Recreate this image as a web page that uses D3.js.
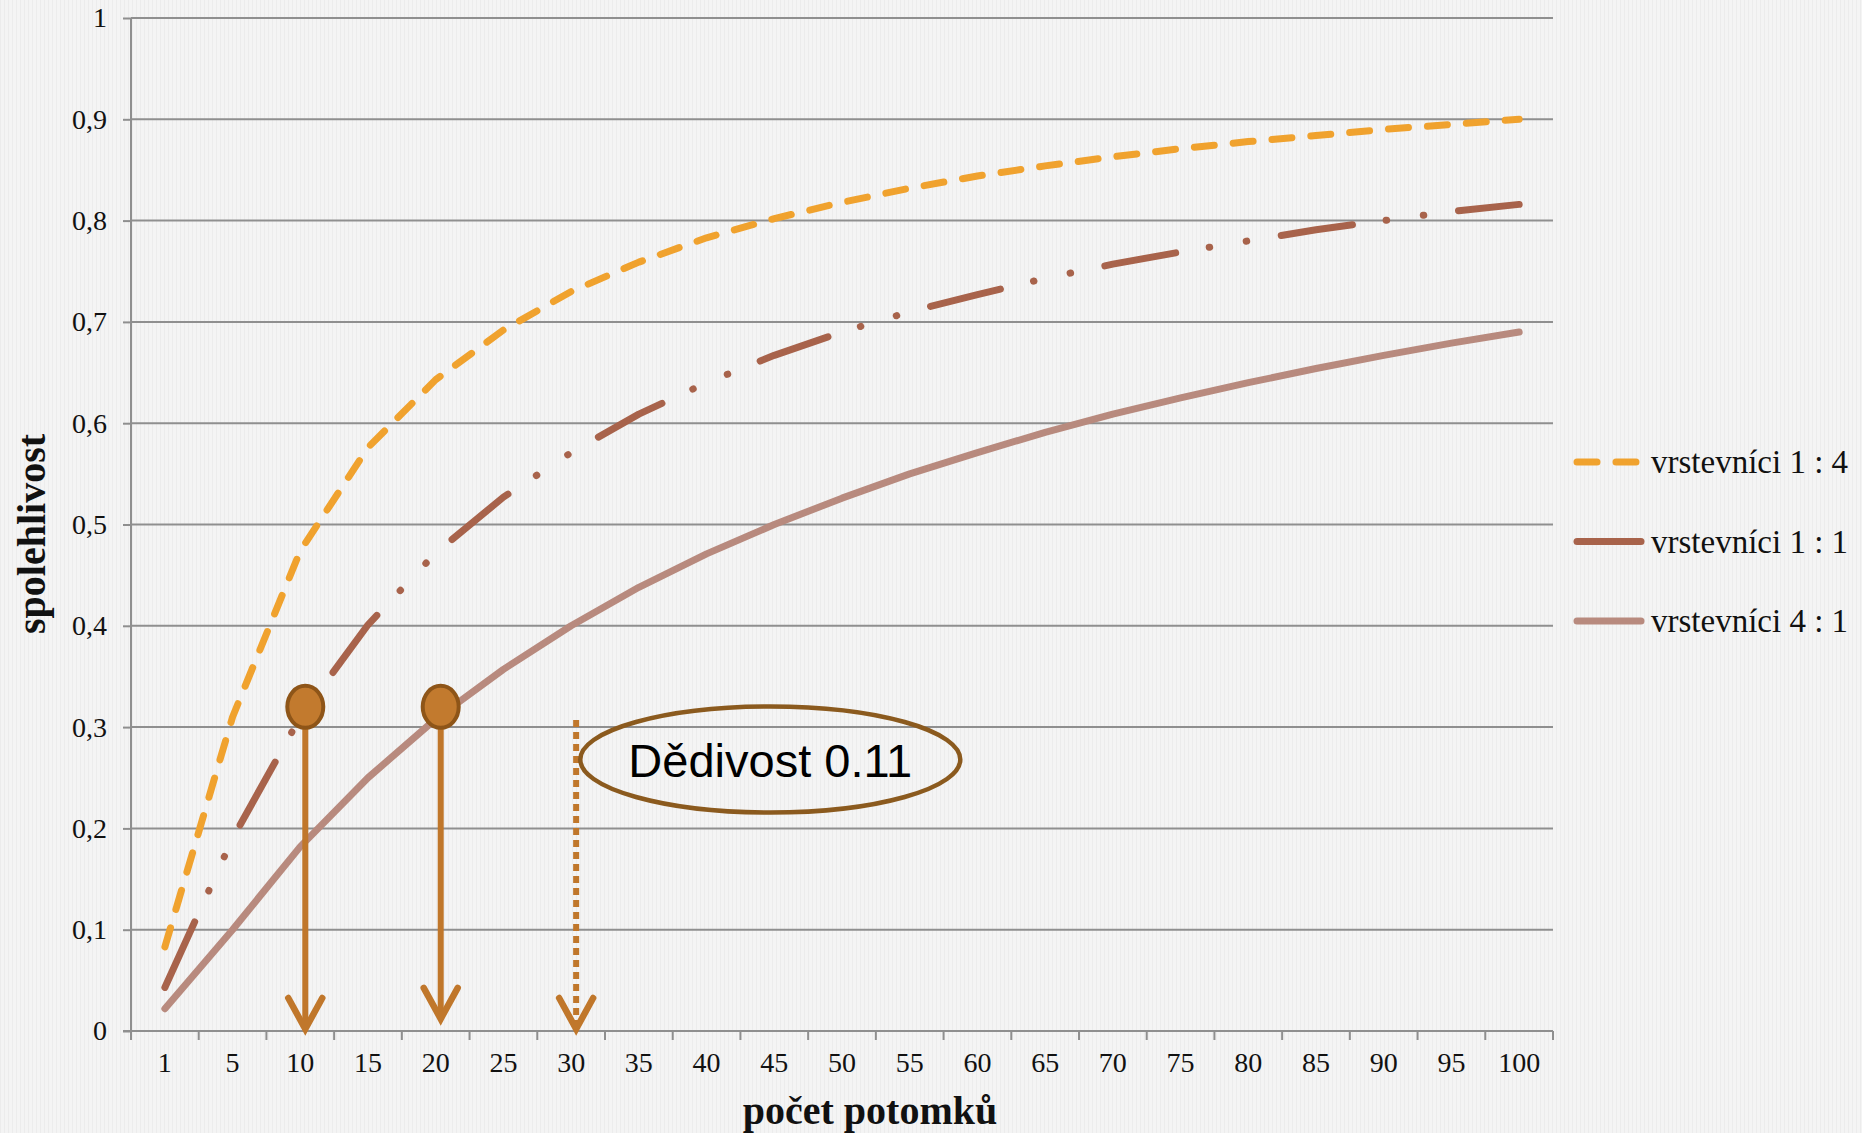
<!DOCTYPE html>
<html lang="cs">
<head>
    <meta charset="UTF-8">
    <title>Spolehlivost podle počtu potomků</title>
    <style>
        body { margin: 0; background: #f3f3f3; }
        svg { display: block; }
    </style>
</head>
<body>
    <svg class="chart-svg" width="1862" height="1133"></svg>
    <script src="https://d3js.org/d3.v7.min.js"></script>
    <script>
        // categories on the x axis (number of offspring)
        var categories = ["1", "5", "10", "15", "20", "25", "30", "35", "40", "45", "50",
                          "55", "60", "65", "70", "75", "80", "85", "90", "95", "100"];
        var yTicks = [0, 0.1, 0.2, 0.3, 0.4, 0.5, 0.6, 0.7, 0.8, 0.9, 1];

        // reliability values
        var vrst14 = [0.083, 0.31, 0.474, 0.576, 0.643, 0.692, 0.73, 0.759, 0.783, 0.802, 0.818,
                      0.832, 0.844, 0.854, 0.863, 0.871, 0.878, 0.884, 0.89, 0.895, 0.9];
        var vrst11 = [0.043, 0.19, 0.31, 0.401, 0.472, 0.527, 0.571, 0.609, 0.64, 0.667, 0.69,
                      0.71, 0.727, 0.743, 0.757, 0.769, 0.78, 0.791, 0.8, 0.809, 0.816];
        var vrst41 = [0.022, 0.1, 0.182, 0.25, 0.308, 0.357, 0.4, 0.438, 0.471, 0.5, 0.526,
                      0.55, 0.571, 0.591, 0.609, 0.625, 0.64, 0.654, 0.667, 0.679, 0.69];
        var seriesNames = ["vrstevníci 1 : 4", "vrstevníci 1 : 1", "vrstevníci 4 : 1"];

        // annotations: arrows down to the axis
        var arrowCats = ["10", "20"];
        var arrowFrom = [0.32, 0.32];
        var arrowTo = [0, 0.01];
        var dottedCat = "30";
        var dottedFrom = 0.307;
        var noteText = "Dědivost 0.11";

        var svg = d3.select(".chart-svg");
        var plotLeft = 131, plotRight = 1553, plotTop = 18, plotBottom = 1031;

        // faint vertical texture like the original background
        var defs = svg.append("defs");
        var pat = defs.append("pattern").attr("id", "tex")
            .attr("width", 4).attr("height", 4).attr("patternUnits", "userSpaceOnUse");
        pat.append("rect").attr("width", 4).attr("height", 4).attr("fill", "#f4f4f4");
        pat.append("rect").attr("width", 1).attr("height", 4).attr("fill", "#ececec");
        svg.append("rect").attr("width", 1862).attr("height", 1133).attr("fill", "url(#tex)");

        var xScale = d3.scaleBand().domain(categories).range([plotLeft, plotRight]).padding(0);
        var yScale = d3.scaleLinear().domain([0, 1]).range([plotBottom, plotTop]);
        var cx = function (c) { return xScale(c) + xScale.bandwidth() / 2; };

        // gridlines
        svg.append("g").selectAll("line")
            .data(yTicks.slice(1))
            .enter().append("line")
            .attr("x1", plotLeft).attr("x2", plotRight)
            .attr("y1", d => yScale(d)).attr("y2", d => yScale(d))
            .attr("stroke", "#8f8f8f").attr("stroke-width", 2);

        // y axis
        var yAxis = svg.append("g")
            .attr("transform", "translate(" + plotLeft + ",0)")
            .call(d3.axisLeft(yScale).tickValues(yTicks).tickSize(8).tickPadding(16)
                .tickFormat(d => String(d).replace(".", ",")));
        yAxis.select(".domain").remove();
        yAxis.selectAll("line").attr("stroke", "#8f8f8f").attr("stroke-width", 2);
        yAxis.selectAll("text").attr("font-family", "Liberation Serif, serif")
            .attr("font-size", 28).attr("fill", "#111");
        svg.append("line").attr("x1", plotLeft).attr("x2", plotLeft)
            .attr("y1", plotTop).attr("y2", plotBottom + 9)
            .attr("stroke", "#8f8f8f").attr("stroke-width", 2);

        // x axis: labels at band centers, ticks at band edges
        var xAxis = svg.append("g")
            .attr("transform", "translate(0," + plotBottom + ")")
            .call(d3.axisBottom(xScale).tickSize(0).tickPadding(21));
        xAxis.select(".domain").remove();
        xAxis.selectAll("text").attr("font-family", "Liberation Serif, serif")
            .attr("font-size", 28).attr("fill", "#111");
        svg.append("line").attr("x1", plotLeft - 8).attr("x2", plotRight)
            .attr("y1", plotBottom).attr("y2", plotBottom)
            .attr("stroke", "#8f8f8f").attr("stroke-width", 2);
        svg.append("g").selectAll("line")
            .data(categories.concat(["end"]))
            .enter().append("line")
            .attr("x1", (d, i) => plotLeft + i * xScale.step())
            .attr("x2", (d, i) => plotLeft + i * xScale.step())
            .attr("y1", plotBottom).attr("y2", plotBottom + 9)
            .attr("stroke", "#8f8f8f").attr("stroke-width", 2);

        // axis titles
        svg.append("text").attr("x", 870).attr("y", 1124)
            .attr("text-anchor", "middle").attr("font-family", "Liberation Serif, serif")
            .attr("font-weight", "bold").attr("font-size", 40).attr("fill", "#111")
            .text("počet potomků");
        svg.append("text").attr("transform", "translate(45,534) rotate(-90)")
            .attr("text-anchor", "middle").attr("font-family", "Liberation Serif, serif")
            .attr("font-weight", "bold").attr("font-size", 40).attr("fill", "#111")
            .text("spolehlivost");

        // series
        var series = [
            { name: seriesNames[0], values: vrst14, color: "#f0a22e", dash: "20 19" },
            { name: seriesNames[1], values: vrst11, color: "#a8634b", dash: "72 34 0.5 37 0.5 35" },
            { name: seriesNames[2], values: vrst41, color: "#b88a7e", dash: null }
        ];
        var line = d3.line().x((d, i) => cx(categories[i])).y(d => yScale(d));

        // draw back to front: solid first
        series.slice().reverse().forEach(function (s) {
            svg.append("path").datum(s.values)
                .attr("d", line)
                .attr("fill", "none")
                .attr("stroke", s.color)
                .attr("stroke-width", 7)
                .attr("stroke-linecap", "round")
                .attr("stroke-linejoin", "round")
                .attr("stroke-dasharray", s.dash);
        });

        // legend
        var legend = svg.append("g");
        series.forEach(function (s, i) {
            var ly = 462 + i * 79.5;
            legend.append("line")
                .attr("x1", 1577).attr("x2", 1641).attr("y1", ly).attr("y2", ly)
                .attr("stroke", s.color).attr("stroke-width", 7)
                .attr("stroke-linecap", "round").attr("stroke-dasharray", s.dash);
            legend.append("text").attr("x", 1651).attr("y", ly + 11)
                .attr("font-family", "Liberation Serif, serif").attr("font-size", 33)
                .attr("fill", "#111").text(s.name);
        });

        // annotation arrows
        var arrowColor = "#c0772b";
        function arrowHead(g, x, y) {
            g.append("path")
                .attr("d", "M" + (x - 17) + "," + (y - 31) + "L" + x + "," + y + "L" + (x + 17) + "," + (y - 31))
                .attr("fill", "none").attr("stroke", arrowColor).attr("stroke-width", 6.5)
                .attr("stroke-linecap", "round").attr("stroke-linejoin", "miter");
        }
        var ann = svg.append("g");
        arrowCats.forEach(function (c, i) {
            var x = cx(c) + 5;
            var yTip = yScale(arrowTo[i]) - 2;
            ann.append("line").attr("x1", x).attr("x2", x)
                .attr("y1", yScale(arrowFrom[i])).attr("y2", yTip)
                .attr("stroke", arrowColor).attr("stroke-width", 6);
            arrowHead(ann, x, yTip);
            ann.append("ellipse").attr("cx", x).attr("cy", yScale(arrowFrom[i]))
                .attr("rx", 18).attr("ry", 21)
                .attr("fill", "#c27a2e").attr("stroke", "#8e5518").attr("stroke-width", 4);
        });

        var dx = cx(dottedCat) + 5;
        ann.append("line").attr("x1", dx).attr("x2", dx)
            .attr("y1", yScale(dottedFrom)).attr("y2", yScale(0) - 6)
            .attr("stroke", arrowColor).attr("stroke-width", 6).attr("stroke-dasharray", "7 5");
        arrowHead(ann, dx, yScale(0) - 2);

        // heritability note
        var ex = cx("45") - 4, ey = yScale(0.268);
        ann.append("ellipse").attr("cx", ex).attr("cy", ey).attr("rx", 190).attr("ry", 53)
            .attr("fill", "none").attr("stroke", "#8b5a1e").attr("stroke-width", 4.5);
        ann.append("text").attr("x", ex).attr("y", ey + 17)
            .attr("text-anchor", "middle").attr("font-family", "Liberation Sans, Arial, sans-serif")
            .attr("font-size", 47).attr("fill", "#000").text(noteText);
    </script>
</body>
</html>
